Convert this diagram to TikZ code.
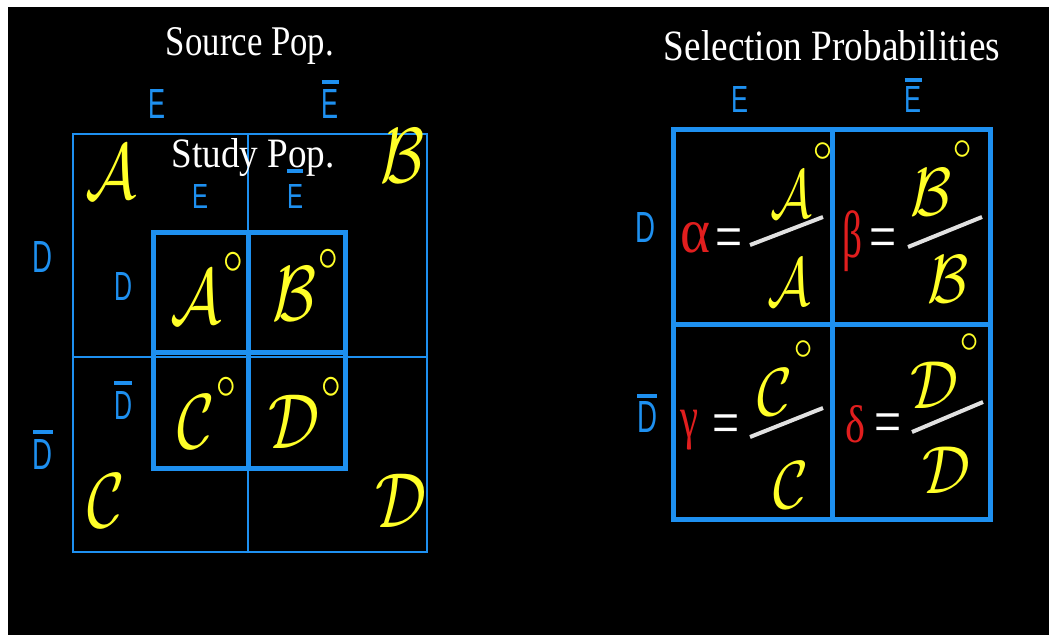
\documentclass[tikz,border=0pt]{standalone}
\usepackage{fontspec}
\usepackage{graphicx}
\setmainfont{Liberation Serif}
\newfontfamily\sansf{Liberation Sans}
\definecolor{myblue}{RGB}{30,144,240}
\definecolor{scryel}{RGB}{255,255,40}
\definecolor{grred}{RGB}{225,30,30}
\definecolor{fracgray}{RGB}{225,225,225}
\newcommand\ovbar[2]{\vbox{\hrule height 4pt\kern#1pt\hbox{#2}}}
\newcommand\capl[3]{\resizebox{#1pt}{#2pt}{#3}}
\newcommand\dg[1]{\raisebox{#1pt}{$\scriptscriptstyle\circ$}}
\newcommand\bigscr[1]{\scalebox{6.4}[7.8]{$#1$}}
\newcommand\smscr[2][6]{\scalebox{#1}[6.8]{$#2$}}
\newcommand\eqs{{\fontsize{48}{48}\selectfont\scalebox{1}[1.4]{=}}}
\tikzset{
  thinblue/.style={draw=myblue, line width=2pt},
  thickblue/.style={draw=myblue, line width=5pt},
  ttl/.style={text=white, inner sep=0pt, anchor=base},
  bl/.style={text=myblue, inner sep=0pt, anchor=south, font=\sansf},
  scr/.style={text=scryel, inner sep=0pt, anchor=base west},
  grk/.style={text=grred, inner sep=0pt, anchor=base west},
  eqn/.style={text=white, inner sep=0pt, anchor=base west},
  frac/.style={draw=fracgray, line width=4pt}
}
\begin{document}
\begin{tikzpicture}[x=1pt,y=-1pt]
\useasboundingbox (0,0) rectangle (1049,635);
\fill[white] (0,0) rectangle (1049,635);
\fill[black] (8,7) rectangle (1049,635);

% left grids
\draw[thinblue] (73,134) rectangle (427,552);
\draw[thinblue] (248,134) -- (248,552);
\draw[thinblue] (73,357) -- (427,357);
\draw[thickblue] (153,232) rectangle (345,468);
\draw[thickblue] (248,232) -- (248,468);
\draw[thickblue] (153,352) -- (345,352);
% right grid
\draw[thickblue] (673,129) rectangle (990,519);
\draw[thickblue] (832,129) -- (832,519);
\draw[thickblue] (673,324) -- (990,324);

% titles
\node[ttl] (srcpop) at (250,55) {\resizebox{168pt}{28pt}{Source Pop.}};
\node[ttl] (stdpop) at (253,167) {\resizebox{163pt}{29pt}{Study Pop.}};
\node[ttl] (selprob) at (832,60) {\resizebox{336pt}{30pt}{Selection Probabilities}};

% blue labels
\node[bl] (eL) at (157,119) {\capl{17}{29}{E}};
\node[bl] (ebL) at (330,119) {\ovbar{6}{\capl{17}{29}{E}}};
\node[bl] (eI) at (200,209) {\capl{16}{24}{E}};
\node[bl] (ebI) at (295,209) {\ovbar{12}{\capl{16}{24}{E}}};
\node[bl] (dL) at (43,273) {\capl{20}{31}{D}};
\node[bl] (dbL) at (43,470) {\ovbar{6}{\capl{20}{30}{D}}};
\node[bl] (dI) at (123,301) {\capl{18}{28}{D}};
\node[bl] (dbI) at (123,420) {\ovbar{7}{\capl{18}{28}{D}}};
\node[bl] (eR) at (740,113) {\capl{17}{26}{E}};
\node[bl] (ebR) at (913,113) {\ovbar{5}{\capl{17}{26}{E}}};
\node[bl] (dR) at (645,243) {\capl{20}{30}{D}};
\node[bl] (dbR) at (647,433) {\ovbar{4}{\capl{20}{31}{D}}};

% script letters, left
\node[scr] (A) at (85,198) {\bigscr{\mathcal{A}}};
\node[scr] (B) at (380,182) {\bigscr{\mathcal{B}}};
\node[scr] (C) at (87,527) {\bigscr{\mathcal{C}}};
\node[scr] (D) at (375,527) {\bigscr{\mathcal{D}}};
\node[scr] (Ao) at (170,323) {\bigscr{\mathcal{A}\dg{6.6}}};
\node[scr] (Bo) at (272,320) {\bigscr{\mathcal{B}\dg{6.6}}};
\node[scr] (Co) at (177,448) {\bigscr{\mathcal{C}\dg{6.6}}};
\node[scr] (Do) at (268,448) {\bigscr{\mathcal{D}\dg{6.6}}};

% right: selection probabilities
\node[grk] (alpha) at (680,252) {\resizebox{30pt}{30pt}{α}};
\node[grk] (beta) at (842,257) {\resizebox*{20pt}{61pt}{β}};
\node[grk] (gamma) at (680,437) {\resizebox*{18pt}{40pt}{γ}};
\node[grk] (delta) at (845,442) {\resizebox{20pt}{37pt}{δ}};
\node[eqn] (eqa) at (715,259) {\eqs};
\node[eqn] (eqb) at (869,259) {\eqs};
\node[eqn] (eqc) at (712,445) {\eqs};
\node[eqn] (eqd) at (874,444) {\eqs};

\node[scr] (Aot) at (770,217) {\smscr[5.2]{\mathcal{A}\scalebox{1.2}[1]{\dg{8.5}}}};
\node[scr] (Ab) at (767,305) {\smscr[5.4]{\mathcal{A}}};
\node[scr] (Bot) at (910,215) {\smscr{\mathcal{B}\dg{8.5}}};
\node[scr] (Bb) at (927,302) {\smscr{\mathcal{B}}};
\node[scr] (Cot) at (757,415) {\smscr{\mathcal{C}\dg{8.5}}};
\node[scr] (Cb) at (773,508) {\smscr{\mathcal{C}}};
\node[scr] (Dot) at (910,408) {\smscr{\mathcal{D}\dg{8.5}}};
\node[scr] (Db) at (922,493) {\smscr{\mathcal{D}}};

\coordinate (fa1) at (750,245); \coordinate (fa2) at (823,217);
\coordinate (fb1) at (908,247); \coordinate (fb2) at (982,217);
\coordinate (fc1) at (750,437); \coordinate (fc2) at (823,408);
\coordinate (fd1) at (912,432); \coordinate (fd2) at (983,402);
\draw[frac] (fa1) -- (fa2);
\draw[frac] (fb1) -- (fb2);
\draw[frac] (fc1) -- (fc2);
\draw[frac] (fd1) -- (fd2);
\end{tikzpicture}
\end{document}
